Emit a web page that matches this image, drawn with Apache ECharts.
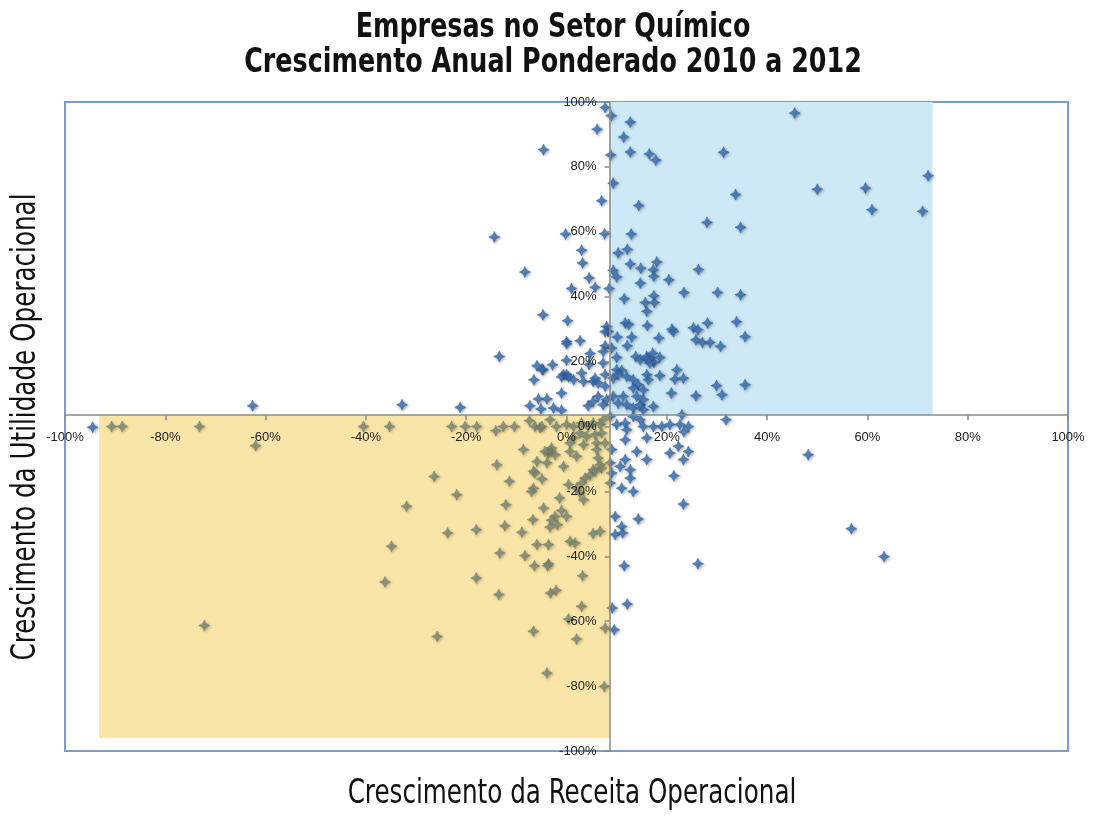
<!DOCTYPE html>
<html>
<head>
<meta charset="utf-8">
<script src="https://cdn.jsdelivr.net/npm/echarts@6/dist/echarts.min.js"></script>
<style>html,body{margin:0;padding:0;background:#fff}#c{width:1101px;height:817px}</style>
</head>
<body>
<div id="c"></div>
<script>
// ---- Data (percent values) ----
const titleLines = ['Empresas no Setor Químico', 'Crescimento Anual Ponderado 2010 a 2012'];
const xAxisTitle = 'Crescimento da Receita Operacional';
const yAxisTitle = 'Crescimento da Utilidade Operacional';
const axisMin = -100, axisMax = 100, axisStep = 20;
// axes cross at these values (weighted averages)
const crossX = 8.6;
const crossY = 3.5;
// quadrant highlight zones [x0, y0, x1, y1]
const blueZone = [8.6, 3.5, 73.0, 100];
const yellowZone = [-93.2, -96.0, 8.6, 3.5];

const companies = [
[7.7,98.3],[8.9,95.8],[12.7,93.8],[6.1,91.6],[11.4,89.2],[8.8,83.7],[12.7,84.6],[16.5,84.0],[17.8,82.1],[31.3,84.5],
[45.5,96.6],[9.3,75.0],[7.0,69.6],[14.4,68.1],[33.7,71.5],[50.0,73.1],[59.6,73.5],[72.1,77.3],[60.9,66.8],[71.0,66.3],
[28.0,62.9],[34.7,61.4],[7.6,59.4],[12.9,59.3],[10.3,53.5],[12.1,54.6],[18.0,50.7],[12.7,50.1],[14.8,48.8],[17.3,48.3],
[9.3,48.1],[10.0,46.1],[17.4,46.3],[20.4,45.2],[26.3,48.4],[14.7,44.2],[8.5,42.5],[5.7,42.9],[23.4,41.3],[30.1,41.3],
[34.7,40.6],[17.4,40.3],[11.5,39.4],
[-4.6,85.3],[-14.4,58.4],[-0.2,59.3],[3.0,54.3],[3.2,50.4],[-8.3,47.6],[4.5,45.8],[1.0,42.5],
[15.7,38.2],[17.5,38.2],[16.0,35.5],[-4.7,34.4],[0.2,32.6],[16.1,31.1],[8.0,30.8],[8.3,29.3],[0.0,26.2],[0.0,25.5],
[2.7,26.4],[10.1,27.6],[13.0,27.6],[12.1,24.9],[9.0,24.2],[7.7,24.9],[4.7,22.5],[7.3,23.1],[10.0,21.3],[13.8,21.6],
[14.7,20.6],[16.0,21.6],[17.4,19.8],[-2.8,19.0],[-4.7,17.5],[-0.6,16.0],[0.0,16.0],[3.0,16.5],[5.3,13.9],
[11.7,31.9],[12.4,31.5],[7.7,29.2],[18.4,27.3],[21.0,30.0],[21.3,29.3],[25.3,30.4],[26.2,29.8],[28.1,31.9],[25.8,26.7],
[27.1,25.9],[28.6,25.9],[30.7,24.7],[-13.4,21.6],[17.2,22.6],[18.6,21.3],[16.0,20.8],[16.6,19.6],[0.0,20.4],[7.3,19.6],
[-5.9,18.7],[-4.9,17.7],[4.5,19.1],[10.0,17.5],[11.0,17.3],[22.0,17.5],[-6.5,14.4],[-1.0,15.3],[0.4,15.3],[1.4,14.4],
[3.4,13.9],[5.7,14.9],[6.3,13.4],[7.7,16.0],[7.7,12.4],[9.3,14.9],[10.3,16.0],[12.0,15.4],[13.3,14.4],[14.3,12.9],
[13.3,11.9],[15.3,11.3],[16.0,16.0],[16.3,14.4],[18.6,15.7],[21.6,14.6],[23.3,14.9],[29.9,12.6],[20.9,10.3],[25.8,9.5],
[-1.0,10.3],[-5.6,8.5],[-3.9,8.5],[-7.3,6.4],[-5.1,5.4],[-2.6,5.7],[-1.0,5.0],[4.3,6.4],[5.3,7.7],[6.3,9.3],
[7.3,6.7],[8.0,8.3],[9.3,9.3],[10.3,7.2],[11.3,9.3],[12.0,6.7],[13.3,5.7],[14.7,6.7],[15.3,5.2],[17.3,6.2],
[14.0,9.3],[15.3,8.3],[23.0,3.6],[-32.8,6.7],[-21.2,5.9],[-62.6,6.4],[31.0,9.8],[35.6,12.9],[35.6,27.7],[33.9,32.3],
[8.7,3.1],[10.0,0.6],[11.7,1.1],[12.0,-1.0],[13.3,3.1],[14.7,2.1],[15.3,0.0],[17.3,0.0],[19.0,0.0],[20.6,0.6],
[22.6,0.6],[24.3,0.0],[31.8,2.1],[11.7,-4.1],[16.0,-3.5],[9.0,-7.1],[14.0,-7.7],[16.0,-10.2],[20.6,-8.2],[22.3,-6.1],
[24.3,-7.7],[23.3,-10.2],[8.7,-11.2],[11.7,-10.2],[10.7,-12.3],[12.7,-13.3],[9.0,-14.3],[12.7,-15.9],[21.4,-15.2],[8.7,-17.4],
[11.0,-19.0],[13.3,-20.0],[23.3,-23.9],[9.7,-27.7],[14.3,-28.5],[11.0,-30.8],[9.7,-33.3],[11.2,-32.8],[11.5,-42.9],[26.2,-42.3],
[9.1,-55.9],[12.1,-54.7],[9.5,-62.6],[48.2,-8.7],[56.8,-31.5],[63.3,-40.1],[23.4,-1.6],[-94.5,-0.2],
[-90.7,0.0],[-88.6,0.0],[-73.2,0.0],[-62.0,-5.9],[-40.5,0.0],[-35.3,0.0],[-22.9,0.0],[-20.2,0.0],[-17.9,0.0],[-26.4,-15.4],
[-21.9,-21.0],[-31.9,-24.6],[-23.7,-32.8],[-18.0,-31.8],[-34.9,-36.9],[-36.2,-47.9],[-18.0,-46.7],[-72.2,-61.3],[-25.8,-64.7],
[-14.1,-1.3],[-12.6,0.0],[-10.4,0.0],[-7.4,1.8],[-6.3,0.0],[-5.3,-0.3],[-3.0,-6.6],[-3.6,-8.2],[-8.6,-7.1],
[-4.9,0.0],[-3.3,2.1],[-2.0,0.0],[0.0,0.6],[1.4,0.0],[3.0,1.1],[4.3,0.0],[5.3,1.1],[6.7,0.6],[7.3,2.1],
[2.7,-2.0],[4.0,-3.1],[5.7,-2.5],[7.0,-2.0],[1.4,-3.5],[0.7,-5.1],[3.4,-5.6],[6.0,-5.1],[7.7,-5.1],[-3.3,-7.7],
[-2.3,-8.7],[-4.3,-7.7],[0.7,-7.7],[2.0,-9.2],[6.0,-7.1],[6.3,-9.7],[-5.9,-10.8],[-3.9,-11.2],[-13.9,-11.8],[-6.6,-13.8],
[-6.3,-14.3],[-0.6,-12.3],[5.3,-13.3],[6.7,-11.8],[7.0,-12.8],[-4.9,-16.2],[3.7,-15.9],[4.7,-14.9],[5.7,-13.8],[3.0,-17.4],
[2.0,-19.0],[-11.4,-16.9],[-6.6,-19.0],[-7.0,-20.0],[0.4,-17.9],[2.7,-20.5],[3.4,-22.6],[-1.4,-22.0],[-12.1,-24.1],[-4.6,-25.1],
[-1.0,-25.9],[0.0,-27.7],[-2.3,-27.7],[-3.0,-28.9],[-1.8,-30.3],[-3.3,-31.0],[-6.7,-28.7],[-12.3,-30.6],[-8.9,-32.6],[5.3,-33.0],
[6.7,-32.3],[-5.9,-36.4],[-3.6,-36.4],[0.7,-35.4],[1.7,-35.9],[-13.3,-39.0],[-8.3,-39.8],[-6.4,-42.9],[-3.6,-42.3],[-3.8,-42.9],
[3.2,-46.0],[-13.5,-51.8],[-3.2,-51.3],[-2.1,-50.5],[3.0,-55.4],[0.4,-59.3],[-6.6,-63.1],[7.7,-62.1],[2.0,-65.5],[-3.9,-76.0],
[7.5,-80.1]
];

// ---- Chart ----
const chart = echarts.init(document.getElementById('c'), null, {renderer: 'canvas'});
const GRID = {left: 65, right: 33, top: 102, bottom: 66};
const plotW = 1101 - GRID.left - GRID.right;
const plotH = 817 - GRID.top - GRID.bottom;
const yAxisOffset = -plotW * (crossX - axisMin) / (axisMax - axisMin);
const xAxisOffset = -plotH * (crossY - axisMin) / (axisMax - axisMin);

function zoneRender(params, api) {
  const p0 = api.coord([api.value(0), api.value(1)]);
  const p1 = api.coord([api.value(2), api.value(3)]);
  return {
    type: 'rect',
    shape: {x: Math.min(p0[0], p1[0]), y: Math.min(p0[1], p1[1]),
            width: Math.abs(p1[0] - p0[0]), height: Math.abs(p1[1] - p0[1])},
    style: {fill: api.visual('color')}
  };
}

const labelStyle = {color: '#222', fontSize: 13, fontFamily: 'Liberation Sans, Arial, sans-serif', formatter: '{value}%'};
const axisLineStyle = {color: '#8a8a8a', width: 1.5};
const condensed = '"DejaVu Sans Condensed", "Liberation Sans Narrow", sans-serif';
const SQUEEZE = 0.83;

function txt(text, x, y, font, rotation) {
  return {
    type: 'text', x: x, y: y, scaleX: SQUEEZE, rotation: rotation || 0, z: 10, silent: true,
    style: {text: text, font: font, fill: '#111', textAlign: 'center', textVerticalAlign: 'middle'}
  };
}

chart.setOption({
  animation: false,
  backgroundColor: '#fff',
  graphic: [
    txt(titleLines[0], 553, 28, 'bold 34px ' + condensed),
    txt(titleLines[1], 553, 63, 'bold 34px ' + condensed),
    txt(xAxisTitle, 572, 794, '33px ' + condensed),
    txt(yAxisTitle, 26, 427, '33px ' + condensed, Math.PI / 2)
  ],
  grid: {left: GRID.left, right: GRID.right, top: GRID.top, bottom: GRID.bottom, show: true,
         outerBoundsMode: 'none', containLabel: false,
         borderColor: '#7a9dd0', borderWidth: 2, backgroundColor: 'transparent'},
  xAxis: {
    type: 'value', min: axisMin, max: axisMax, interval: axisStep, z: 5,
    position: 'bottom', offset: xAxisOffset,
    axisLine: {onZero: false, lineStyle: axisLineStyle},
    axisTick: {show: true, length: 5, lineStyle: axisLineStyle},
    axisLabel: Object.assign({margin: 16}, labelStyle),
    splitLine: {show: false}
  },
  yAxis: {
    type: 'value', min: axisMin, max: axisMax, interval: axisStep, z: 5,
    position: 'left', offset: yAxisOffset,
    axisLine: {onZero: false, lineStyle: axisLineStyle},
    axisTick: {show: true, length: 5, lineStyle: axisLineStyle},
    axisLabel: Object.assign({margin: 13}, labelStyle),
    splitLine: {show: false}
  },
  series: [
    {
      type: 'custom', z: 1, silent: true, renderItem: zoneRender,
      itemStyle: {color: '#cde9f6'},
      encode: {x: [0, 2], y: [1, 3]},
      data: [blueZone]
    },
    {
      type: 'scatter', z: 2,
      symbol: 'path://M5,0 L6.6,3.4 L10,5 L6.6,6.6 L5,10 L3.4,6.6 L0,5 L3.4,3.4 Z',
      symbolSize: 11,
      itemStyle: {color: '#3a77c0', borderColor: '#2a5c9c', borderWidth: 0.6,
                  shadowBlur: 3, shadowColor: 'rgba(0,0,0,0.45)', shadowOffsetX: 1, shadowOffsetY: 1},
      data: companies
    },
    {
      type: 'custom', z: 3, silent: true, renderItem: zoneRender,
      itemStyle: {color: 'rgba(241,181,9,0.35)'},
      encode: {x: [0, 2], y: [1, 3]},
      data: [yellowZone]
    }
  ]
});
</script>
</body>
</html>
